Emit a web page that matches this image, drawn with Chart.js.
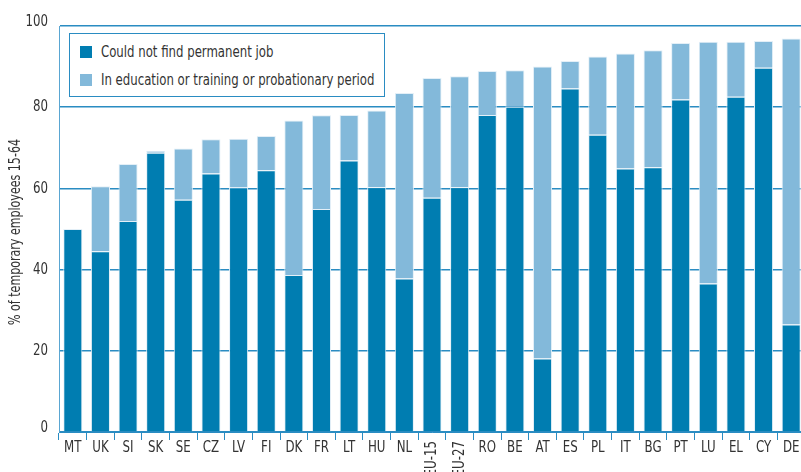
<!DOCTYPE html>
<html>
<head>
<meta charset="utf-8">
<script src="https://cdn.jsdelivr.net/npm/chart.js@4/dist/chart.umd.min.js"></script>
<style>
  html, body { margin: 0; padding: 0; background: #fff; overflow: hidden; }
  #wrap { position: relative; width: 801px; height: 472px; overflow: hidden; }
  #legend {
    position: absolute; left: 69px; top: 33px; width: 314px; height: 62px;
    border: 1.5px solid #2a8cc2; background: #fff;
    font-family: "DejaVu Sans Condensed", sans-serif;
    font-size: 16px; color: #333;
  }
  .item { position: absolute; left: 10px; height: 14px; line-height: 14px; white-space: nowrap; }
  .item i { position: absolute; left: 0; top: 1px; width: 12px; height: 12px; }
  .item b { position: absolute; left: 21px; top: 0; font-weight: normal; transform: scaleX(0.815); transform-origin: 0 50%; }
</style>
</head>
<body>
<div id="wrap">
  <canvas id="myChart" width="806" height="472"></canvas>
  <div id="legend">
    <div class="item" style="top:11px"><i style="background:#007db1"></i><b>Could not find permanent job</b></div>
    <div class="item" style="top:39px"><i style="background:#83b9da"></i><b>In education or training or probationary period</b></div>
  </div>
</div>
<script>
// dati
const countries = ['MT','UK','SI','SK','SE','CZ','LV','FI','DK','FR','LT','HU','NL','EU-15','EU-27','RO','BE','AT','ES','PL','IT','BG','PT','LU','EL','CY','DE'];
const noPermanentJob = [50.0,44.5,52.0,68.8,57.2,63.7,60.2,64.5,38.7,54.9,66.9,60.3,37.8,57.7,60.3,78.1,80.1,18.1,84.6,73.2,64.9,65.2,81.9,36.6,82.6,89.7,26.5];
const educationTraining = [0,16.0,14.0,0.4,12.6,8.4,12.0,8.4,38.0,23.1,11.2,18.9,45.7,29.5,27.3,10.8,9.0,71.9,6.8,19.3,28.3,28.8,13.9,59.5,13.5,6.6,70.4];
const yTicks = [0,20,40,60,80,100];
const yTitle = '% of temporary employees 15-64';

const fontFam = '"DejaVu Sans Condensed", sans-serif';
const blue = '#2a8cc2';
const squeeze = 0.82;

// testi disegnati a mano (font stretto come nell'originale)
const textPlugin = {
    id: 'texts',
    afterDraw(chart) {
        const ctx = chart.ctx;
        const xs = chart.scales.x;
        const ys = chart.scales.y;
        ctx.save();
        ctx.fillStyle = '#333';
        ctx.font = '16px ' + fontFam;
        ctx.textBaseline = 'middle';
        countries.forEach((c, i) => {
            const x = xs.getPixelForValue(i);
            ctx.save();
            if (c.indexOf('EU') === 0) {
                ctx.translate(x, 441);
                ctx.rotate(-Math.PI / 2);
                ctx.scale(squeeze, 1);
                ctx.textAlign = 'right';
                ctx.fillText(c, 0, 0);
            } else {
                ctx.translate(x, 448);
                ctx.scale(squeeze, 1);
                ctx.textAlign = 'center';
                ctx.fillText(c, 0, 0);
            }
            ctx.restore();
        });
        yTicks.forEach(v => {
            let y = ys.getPixelForValue(v);
            if (v === 0) y -= 4;
            if (v === 100) y -= 4;
            ctx.save();
            ctx.translate(48, y);
            ctx.scale(squeeze, 1);
            ctx.textAlign = 'right';
            ctx.fillText(String(v), 0, 0);
            ctx.restore();
        });
        ctx.save();
        ctx.font = '15px ' + fontFam;
        ctx.translate(16, 232);
        ctx.rotate(-Math.PI / 2);
        ctx.scale(squeeze, 1);
        ctx.textAlign = 'center';
        ctx.fillText(yTitle, 0, 0);
        ctx.restore();
        ctx.restore();
    }
};

var ctx = document.getElementById('myChart').getContext('2d');
var myChart = new Chart(ctx, {
    type: 'bar',
    data: {
        labels: countries,
        datasets: [{
            label: 'Could not find permanent job',
            data: noPermanentJob,
            backgroundColor: '#007db1',
            borderColor: '#e3eff7',
            borderWidth: 1,
            categoryPercentage: 1,
            barPercentage: 0.69
        }, {
            label: 'In education or training or probationary period',
            data: educationTraining,
            backgroundColor: '#83b9da',
            borderColor: '#e3eff7',
            borderWidth: 1,
            categoryPercentage: 1,
            barPercentage: 0.69
        }]
    },
    options: {
        responsive: false,
        animation: false,
        layout: { padding: { top: 26, right: 1, left: 0, bottom: 0 } },
        plugins: { legend: { display: false }, tooltip: { enabled: false } },
        scales: {
            x: {
                stacked: true,
                afterFit: function (s) { s.height = 40; },
                ticks: { color: 'transparent', font: { size: 16, family: fontFam }, maxRotation: 0, autoSkip: false },
                grid: { drawOnChartArea: false, drawTicks: true, tickLength: 8, color: blue, lineWidth: 1 },
                border: { display: true, color: blue, width: 1 }
            },
            y: {
                stacked: true,
                min: 0,
                max: 100,
                afterFit: function (s) { s.width = 59; },
                afterBuildTicks: function (s) { s.ticks = yTicks.map(v => ({ value: v })); },
                ticks: { color: 'transparent', padding: 11, font: { size: 16, family: fontFam } },
                grid: { color: blue, lineWidth: 1.5, drawTicks: false },
                border: { display: true, color: '#5aa6d2', width: 1 }
            }
        }
    },
    plugins: [textPlugin]
});
</script>
</body>
</html>
